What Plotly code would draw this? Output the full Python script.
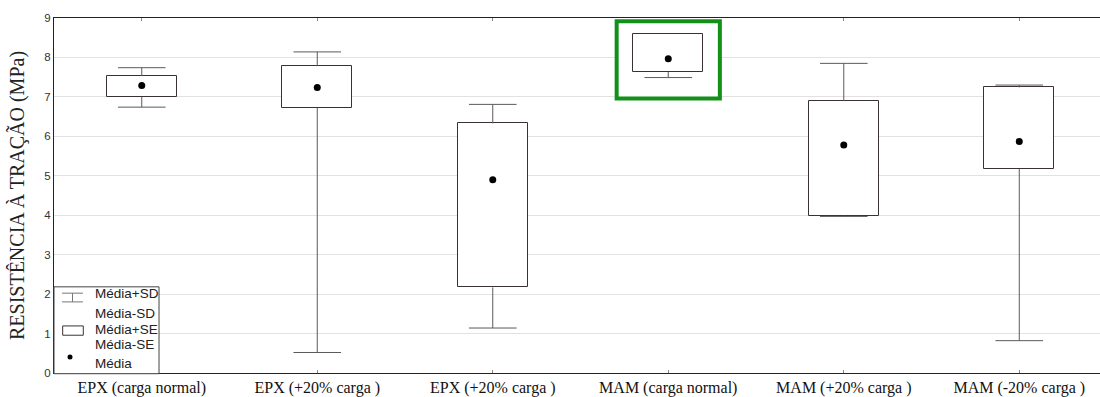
import plotly.graph_objects as go

# ---- data ----
categories = ["EPX (carga normal)", "EPX (+20% carga )", "EPX (+20% carga )",
              "MAM (carga normal)", "MAM (+20% carga )", "MAM (-20% carga )"]
media = [7.29, 7.24, 4.90, 7.97, 5.78, 5.87]
media_mais_se = [7.53, 7.78, 6.33, 8.60, 6.90, 7.24]
media_menos_se = [7.00, 6.72, 2.17, 7.63, 3.99, 5.17]
media_mais_sd = [7.74, 8.14, 6.81, 8.60, 7.85, 7.30]
media_menos_sd = [6.74, 0.52, 1.14, 7.49, 3.97, 0.82]
y_ticks = [0, 1, 2, 3, 4, 5, 6, 7, 8, 9]
destaque_idx = 3  # highlighted category (green frame)
destaque_y = (6.96, 8.92)

xs = list(range(len(categories)))
BOX_W = 0.40
BOX_LINE = "#3a3232"
WHISK = "#5a5a5a"

fig = go.Figure()

# boxes (mean +/- SE)
fig.add_trace(go.Bar(
    x=xs, base=media_menos_se,
    y=[h - l for h, l in zip(media_mais_se, media_menos_se)],
    width=BOX_W,
    marker=dict(color="white", line=dict(color=BOX_LINE, width=1)),
    showlegend=False, hoverinfo="skip"))

# whisker stems (box edge -> mean +/- SD)
wx, wy = [], []
for i in xs:
    if media_mais_sd[i] > media_mais_se[i]:
        wx += [i, i, None]
        wy += [media_mais_se[i], media_mais_sd[i], None]
    if media_menos_sd[i] < media_menos_se[i]:
        wx += [i, i, None]
        wy += [media_menos_se[i], media_menos_sd[i], None]
fig.add_trace(go.Scatter(x=wx, y=wy, mode="lines",
                         line=dict(color=WHISK, width=1),
                         showlegend=False, hoverinfo="skip"))

# whisker caps
cap_x = [i for i in xs if media_mais_sd[i] > media_mais_se[i]] + \
        [i for i in xs if media_menos_sd[i] < media_menos_se[i]]
cap_y = [media_mais_sd[i] for i in xs if media_mais_sd[i] > media_mais_se[i]] + \
        [media_menos_sd[i] for i in xs if media_menos_sd[i] < media_menos_se[i]]
fig.add_trace(go.Scatter(x=cap_x, y=cap_y, mode="markers",
                         marker=dict(symbol="line-ew-open", size=34, color=WHISK,
                                     line=dict(color=WHISK, width=1)),
                         showlegend=False, hoverinfo="skip"))

# means
fig.add_trace(go.Scatter(
    x=xs, y=media, mode="markers",
    marker=dict(size=7, color="black"),
    showlegend=False, hoverinfo="skip"))

shapes = []
# highlight frame around the MAM (carga normal) box
hx0, hx1 = destaque_idx - 0.294, destaque_idx + 0.294
shapes.append(dict(type="rect", xref="x", yref="y", x0=hx0, x1=hx1,
                   y0=destaque_y[0], y1=destaque_y[1], layer="between",
                   fillcolor="white", line=dict(width=0)))
shapes.append(dict(type="rect", xref="x", yref="y", x0=hx0 - 0.02, x1=hx1 + 0.02,
                   y0=destaque_y[1], y1=9.1, layer="above",
                   fillcolor="white", line=dict(width=0)))
shapes.append(dict(type="rect", xref="x", yref="y", x0=hx0, x1=hx1,
                   y0=destaque_y[0], y1=destaque_y[1], layer="above",
                   fillcolor="rgba(0,0,0,0)", line=dict(color="#12901a", width=4)))

# hand-drawn legend box (bottom-left)
LG = "#444444"
shapes.append(dict(type="rect", xref="paper", yref="paper", x0=0, x1=0.1004,
                   y0=-0.002, y1=0.2427, layer="above",
                   fillcolor="white", line=dict(color=LG, width=1)))
# I-beam symbol
shapes += [
    dict(type="line", xref="paper", yref="paper", x0=0.0077, x1=0.0277, y0=0.2249, y1=0.2249,
         layer="above", line=dict(color="#777", width=1)),
    dict(type="line", xref="paper", yref="paper", x0=0.0177, x1=0.0177, y0=0.2249, y1=0.2003,
         layer="above", line=dict(color="#777", width=1)),
    dict(type="line", xref="paper", yref="paper", x0=0.0077, x1=0.0277, y0=0.2003, y1=0.2003,
         layer="above", line=dict(color="#777", width=1)),
]
# box symbol
shapes.append(dict(type="rect", xref="paper", yref="paper", x0=0.0083, x1=0.028,
                   y0=0.1064, y1=0.1326, layer="above",
                   fillcolor="white", line=dict(color=BOX_LINE, width=1)))
# dot symbol
shapes.append(dict(type="circle", xref="paper", yref="paper", xsizemode="pixel",
                   ysizemode="pixel", xanchor=0.0153, yanchor=0.0451,
                   x0=-2.5, x1=2.5, y0=-2.5, y1=2.5, layer="above",
                   fillcolor="black", line=dict(color="black", width=0)))

legend_texts = [("Média+SD", 0.2249), ("Média-SD", 0.1685), ("Média+SE", 0.1233),
                ("Média-SE", 0.079), ("Média", 0.0274)]
annotations = [dict(text=t, xref="paper", yref="paper", x=0.0373, y=y,
                    xanchor="left", yanchor="middle", showarrow=False,
                    font=dict(family="Liberation Sans", size=13.5, color="#222"))
               for t, y in legend_texts]

fig.update_layout(
    width=1100, height=397,
    margin=dict(l=54, r=0, t=18, b=24),
    paper_bgcolor="white", plot_bgcolor="white",
    shapes=shapes, annotations=annotations,
    bargap=0,
    xaxis=dict(range=[-0.5, 5.46], tickmode="array", tickvals=xs, ticktext=categories,
               showgrid=False, zeroline=False, showline=True, linecolor="#222",
               linewidth=1, mirror="ticks", ticks="inside", ticklen=3,
               tickcolor="#888",
               tickfont=dict(family="Liberation Serif", size=16, color="#111")),
    yaxis=dict(range=[0, 9], tickmode="array", tickvals=y_ticks,
               showgrid=True, gridcolor="#e2e2e2", gridwidth=1, zeroline=False,
               showline=True, linecolor="#222", linewidth=1, ticks="",
               tickfont=dict(family="Liberation Sans", size=11.5, color="#333"),
               title=dict(text="RESISTÊNCIA À TRAÇÃO (MPa)", standoff=14,
                          font=dict(family="Liberation Serif", size=20, color="#222"))),
)

fig.write_html("out.html", config={"displayModeBar": False},
               post_script="document.body.style.margin='0';document.body.style.overflow='hidden';")
